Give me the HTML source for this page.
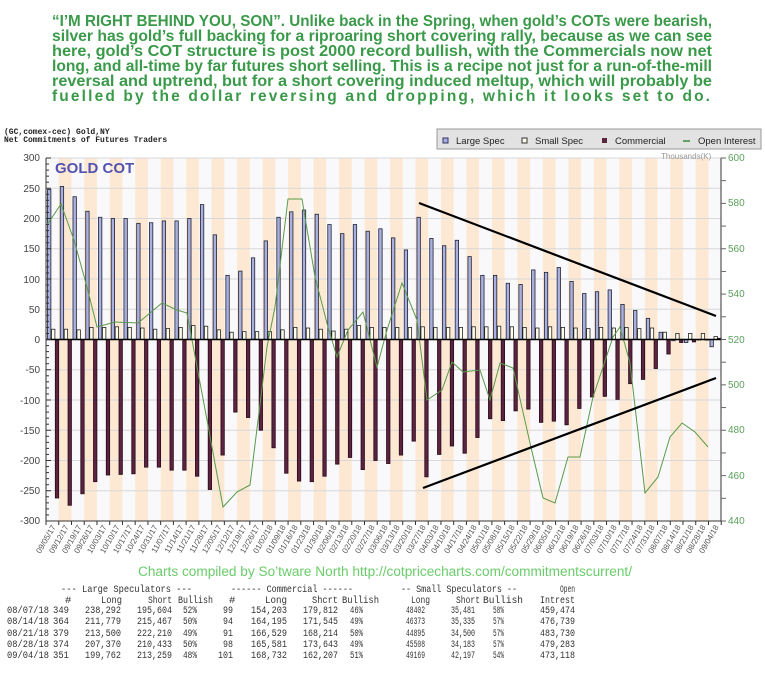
<!DOCTYPE html>
<html><head><meta charset="utf-8">
<style>
body{margin:0;background:#fff;width:765px;height:674px;overflow:hidden;position:relative;font-family:"Liberation Sans",sans-serif}
svg{position:absolute;left:0;top:0}
</style></head><body>
<svg id="s" width="765" height="674" xmlns="http://www.w3.org/2000/svg" font-family="Liberation Sans, sans-serif">
<g fill="#3a9a4a" font-weight="bold" font-size="15.5">
<text x="52" y="26" textLength="660" lengthAdjust="spacingAndGlyphs">“I’M RIGHT BEHIND YOU, SON”. Unlike back in the Spring, when gold’s COTs were bearish,</text>
<text x="52" y="41" textLength="660" lengthAdjust="spacingAndGlyphs">silver has gold’s full backing for a riproaring short covering rally, because as we can see</text>
<text x="52" y="56" textLength="660" lengthAdjust="spacingAndGlyphs">here, gold’s COT structure is post 2000 record bullish, with the Commercials now net</text>
<text x="52" y="71" textLength="660" lengthAdjust="spacingAndGlyphs">long, and all-time by far futures short selling. This is a recipe not just for a run-of-the-mill</text>
<text x="52" y="86" textLength="660" lengthAdjust="spacingAndGlyphs">reversal and uptrend, but for a short covering induced meltup, which will probably be</text>
<text x="52" y="101" textLength="658" lengthAdjust="spacing">fuelled by the dollar reversing and dropping,  which it looks set to do.</text>
</g>
<g id="stripes"></g>
<g id="grid" stroke="#d8d8d8" stroke-width="1"></g>
<g id="bars"></g>
<polyline fill="none" stroke="#5a9a4a" stroke-width="1" points="47,225 61,204 74,240 87,287 97,327 115,322 138,323 162,303 177,310 187,313 192,340 207,420 223,507 237,492 250,485 263,380 267,347 275,307 288,199 302,199 315,277 328,327 337,357 348,330 363,312 377,367 387,330 402,283 417,320 427,400 442,390 452,362 463,372 480,370 490,400 500,363 513,368 530,443 543,498 555,503 568,457 580,457 593,397 613,337 620,327 630,363 645,493 658,477 670,437 682,423 695,432 708,447"/>
<line x1="419" y1="203" x2="716" y2="316" stroke="#000" stroke-width="2.2"/>
<line x1="423" y1="488" x2="716" y2="378" stroke="#000" stroke-width="2.2"/>
<g id="axes" stroke="#333" stroke-width="1"></g>
<g font-size="10" fill="#444" text-anchor="end">
<text x="40" y="161">300</text><text x="40" y="192">250</text><text x="40" y="222">200</text><text x="40" y="252">150</text><text x="40" y="283">100</text><text x="40" y="313">50</text><text x="40" y="343">0</text><text x="40" y="373">-50</text><text x="40" y="404">-100</text><text x="40" y="434">-150</text><text x="40" y="464">-200</text><text x="40" y="494">-250</text><text x="40" y="524">-300</text>
</g>
<g font-size="10" fill="#5aa05a">
<text x="728" y="161">600</text><text x="728" y="206">580</text><text x="728" y="252">560</text><text x="728" y="297">540</text><text x="728" y="343">520</text><text x="728" y="388">500</text><text x="728" y="433">480</text><text x="728" y="479">460</text><text x="728" y="524">440</text>
</g>
<text x="661" y="159" font-size="8" fill="#999">Thousands(K)</text>
<text x="55" y="173" font-size="15" font-weight="bold" fill="#5252b0">GOLD COT</text>
<g font-family="Liberation Mono, monospace" font-size="8" font-weight="bold" fill="#222">
<text x="4" y="134">(GC,comex-cec) Gold,NY</text>
<text x="4" y="142">Net Commitments of Futures Traders</text>
</g>
<rect x="437" y="129" width="324" height="20" fill="#e2e2e2" stroke="#999"/>
<rect x="443" y="138" width="5" height="5" fill="#aab0dd" stroke="#336"/>
<text x="456" y="144" font-size="9.5" fill="#222">Large Spec</text>
<rect x="522" y="138" width="5" height="5" fill="#ffffe8" stroke="#333"/>
<text x="535" y="144" font-size="9.5" fill="#222">Small Spec</text>
<rect x="602" y="138" width="5" height="5" fill="#5a2440"/>
<text x="615" y="144" font-size="9.5" fill="#222">Commercial</text>
<line x1="683" y1="141" x2="690" y2="141" stroke="#3a8a3a" stroke-width="1.5"/>
<text x="698" y="144" font-size="9.5" fill="#222">Open Interest</text>
<g id="dates" font-size="8" fill="#555" text-anchor="end">
<text transform="translate(56,527) rotate(-60)">09/05/17</text>
<text transform="translate(69,527) rotate(-60)">09/12/17</text>
<text transform="translate(82,527) rotate(-60)">09/19/17</text>
<text transform="translate(94,527) rotate(-60)">09/26/17</text>
<text transform="translate(107,527) rotate(-60)">10/03/17</text>
<text transform="translate(120,527) rotate(-60)">10/10/17</text>
<text transform="translate(133,527) rotate(-60)">10/17/17</text>
<text transform="translate(145,527) rotate(-60)">10/24/17</text>
<text transform="translate(158,527) rotate(-60)">10/31/17</text>
<text transform="translate(171,527) rotate(-60)">11/07/17</text>
<text transform="translate(184,527) rotate(-60)">11/14/17</text>
<text transform="translate(196,527) rotate(-60)">11/21/17</text>
<text transform="translate(209,527) rotate(-60)">11/28/17</text>
<text transform="translate(222,527) rotate(-60)">12/05/17</text>
<text transform="translate(235,527) rotate(-60)">12/12/17</text>
<text transform="translate(247,527) rotate(-60)">12/19/17</text>
<text transform="translate(260,527) rotate(-60)">12/26/17</text>
<text transform="translate(273,527) rotate(-60)">01/02/18</text>
<text transform="translate(286,527) rotate(-60)">01/09/18</text>
<text transform="translate(298,527) rotate(-60)">01/16/18</text>
<text transform="translate(311,527) rotate(-60)">01/23/18</text>
<text transform="translate(324,527) rotate(-60)">01/30/18</text>
<text transform="translate(337,527) rotate(-60)">02/06/18</text>
<text transform="translate(349,527) rotate(-60)">02/13/18</text>
<text transform="translate(362,527) rotate(-60)">02/20/18</text>
<text transform="translate(375,527) rotate(-60)">02/27/18</text>
<text transform="translate(388,527) rotate(-60)">03/06/18</text>
<text transform="translate(400,527) rotate(-60)">03/13/18</text>
<text transform="translate(413,527) rotate(-60)">03/20/18</text>
<text transform="translate(426,527) rotate(-60)">03/27/18</text>
<text transform="translate(439,527) rotate(-60)">04/03/18</text>
<text transform="translate(451,527) rotate(-60)">04/10/18</text>
<text transform="translate(464,527) rotate(-60)">04/17/18</text>
<text transform="translate(477,527) rotate(-60)">04/24/18</text>
<text transform="translate(490,527) rotate(-60)">05/01/18</text>
<text transform="translate(502,527) rotate(-60)">05/08/18</text>
<text transform="translate(515,527) rotate(-60)">05/15/18</text>
<text transform="translate(528,527) rotate(-60)">05/22/18</text>
<text transform="translate(541,527) rotate(-60)">05/29/18</text>
<text transform="translate(553,527) rotate(-60)">06/05/18</text>
<text transform="translate(566,527) rotate(-60)">06/12/18</text>
<text transform="translate(579,527) rotate(-60)">06/19/18</text>
<text transform="translate(592,527) rotate(-60)">06/26/18</text>
<text transform="translate(604,527) rotate(-60)">07/03/18</text>
<text transform="translate(617,527) rotate(-60)">07/10/18</text>
<text transform="translate(630,527) rotate(-60)">07/17/18</text>
<text transform="translate(643,527) rotate(-60)">07/24/18</text>
<text transform="translate(655,527) rotate(-60)">07/31/18</text>
<text transform="translate(668,527) rotate(-60)">08/07/18</text>
<text transform="translate(681,527) rotate(-60)">08/14/18</text>
<text transform="translate(694,527) rotate(-60)">08/21/18</text>
<text transform="translate(706,527) rotate(-60)">08/28/18</text>
<text transform="translate(719,527) rotate(-60)">09/04/18</text>
</g>
<text x="138" y="576" font-size="13.5" fill="#6acc6a" textLength="494" lengthAdjust="spacingAndGlyphs">Charts compiled by So&#8217;tware North  http://cotpricecharts.com/commitmentscurrent/</text>
<g font-family="Liberation Mono, monospace" font-size="10.5" fill="#333">
<text x="61" y="592" textLength="131" lengthAdjust="spacingAndGlyphs">--- Large Speculators ---</text>
<text x="231" y="592" textLength="122" lengthAdjust="spacingAndGlyphs">------ Commercial ------</text>
<text x="401" y="592" textLength="116" lengthAdjust="spacingAndGlyphs">-- Small Speculators --</text>
<text x="560" y="592" textLength="15" lengthAdjust="spacingAndGlyphs">Open</text>
<text x="65" y="603">#</text>
<text x="101" y="603" textLength="21" lengthAdjust="spacingAndGlyphs">Long</text>
<text x="148" y="603" textLength="24" lengthAdjust="spacingAndGlyphs">Short</text>
<text x="178" y="603" textLength="35" lengthAdjust="spacingAndGlyphs">Bullish</text>
<text x="229" y="603">#</text>
<text x="265" y="603" textLength="22" lengthAdjust="spacingAndGlyphs">Long</text>
<text x="312" y="603" textLength="26" lengthAdjust="spacingAndGlyphs">Shcrt</text>
<text x="342" y="603" textLength="37" lengthAdjust="spacingAndGlyphs">Bullish</text>
<text x="411" y="603" textLength="19" lengthAdjust="spacingAndGlyphs">Long</text>
<text x="456" y="603" textLength="24" lengthAdjust="spacingAndGlyphs">Short</text>
<text x="483" y="603" textLength="40" lengthAdjust="spacingAndGlyphs">Bullish</text>
<text x="540" y="603" textLength="35" lengthAdjust="spacingAndGlyphs">Intrest</text>
</g>
<g font-family="Liberation Mono, monospace" font-size="10.5" fill="#333">
<g transform="translate(0,613)"><text x="7" textLength="42" lengthAdjust="spacingAndGlyphs">08/07/18</text><text x="53" textLength="16" lengthAdjust="spacingAndGlyphs">349</text><text x="85" textLength="36" lengthAdjust="spacingAndGlyphs">238,292</text><text x="137" textLength="35" lengthAdjust="spacingAndGlyphs">195,604</text><text x="183" textLength="14" lengthAdjust="spacingAndGlyphs">52%</text><text x="223" textLength="10" lengthAdjust="spacingAndGlyphs">99</text><text x="251" textLength="36" lengthAdjust="spacingAndGlyphs">154,203</text><text x="303" textLength="35" lengthAdjust="spacingAndGlyphs">179,812</text><text x="350" textLength="13" lengthAdjust="spacingAndGlyphs">46%</text><text x="406" textLength="19" lengthAdjust="spacingAndGlyphs">48402</text><text x="451" textLength="24" lengthAdjust="spacingAndGlyphs">35,481</text><text x="493" textLength="11" lengthAdjust="spacingAndGlyphs">58%</text><text x="540" textLength="35" lengthAdjust="spacingAndGlyphs">459,474</text></g>
<g transform="translate(0,624)"><text x="7" textLength="42" lengthAdjust="spacingAndGlyphs">08/14/18</text><text x="53" textLength="16" lengthAdjust="spacingAndGlyphs">364</text><text x="85" textLength="36" lengthAdjust="spacingAndGlyphs">211,779</text><text x="137" textLength="35" lengthAdjust="spacingAndGlyphs">215,467</text><text x="183" textLength="14" lengthAdjust="spacingAndGlyphs">50%</text><text x="223" textLength="10" lengthAdjust="spacingAndGlyphs">94</text><text x="251" textLength="36" lengthAdjust="spacingAndGlyphs">164,195</text><text x="303" textLength="35" lengthAdjust="spacingAndGlyphs">171,545</text><text x="350" textLength="13" lengthAdjust="spacingAndGlyphs">49%</text><text x="406" textLength="19" lengthAdjust="spacingAndGlyphs">46373</text><text x="451" textLength="24" lengthAdjust="spacingAndGlyphs">35,335</text><text x="493" textLength="11" lengthAdjust="spacingAndGlyphs">57%</text><text x="540" textLength="35" lengthAdjust="spacingAndGlyphs">476,739</text></g>
<g transform="translate(0,636)"><text x="7" textLength="42" lengthAdjust="spacingAndGlyphs">08/21/18</text><text x="53" textLength="16" lengthAdjust="spacingAndGlyphs">379</text><text x="85" textLength="36" lengthAdjust="spacingAndGlyphs">213,500</text><text x="137" textLength="35" lengthAdjust="spacingAndGlyphs">222,210</text><text x="183" textLength="14" lengthAdjust="spacingAndGlyphs">49%</text><text x="223" textLength="10" lengthAdjust="spacingAndGlyphs">91</text><text x="251" textLength="36" lengthAdjust="spacingAndGlyphs">166,529</text><text x="303" textLength="35" lengthAdjust="spacingAndGlyphs">168,214</text><text x="350" textLength="13" lengthAdjust="spacingAndGlyphs">50%</text><text x="406" textLength="19" lengthAdjust="spacingAndGlyphs">44895</text><text x="451" textLength="24" lengthAdjust="spacingAndGlyphs">34,500</text><text x="493" textLength="11" lengthAdjust="spacingAndGlyphs">57%</text><text x="540" textLength="35" lengthAdjust="spacingAndGlyphs">483,730</text></g>
<g transform="translate(0,647)"><text x="7" textLength="42" lengthAdjust="spacingAndGlyphs">08/28/18</text><text x="53" textLength="16" lengthAdjust="spacingAndGlyphs">374</text><text x="85" textLength="36" lengthAdjust="spacingAndGlyphs">207,370</text><text x="137" textLength="35" lengthAdjust="spacingAndGlyphs">210,433</text><text x="183" textLength="14" lengthAdjust="spacingAndGlyphs">50%</text><text x="223" textLength="10" lengthAdjust="spacingAndGlyphs">98</text><text x="251" textLength="36" lengthAdjust="spacingAndGlyphs">165,581</text><text x="303" textLength="35" lengthAdjust="spacingAndGlyphs">173,643</text><text x="350" textLength="13" lengthAdjust="spacingAndGlyphs">49%</text><text x="406" textLength="19" lengthAdjust="spacingAndGlyphs">45508</text><text x="451" textLength="24" lengthAdjust="spacingAndGlyphs">34,183</text><text x="493" textLength="11" lengthAdjust="spacingAndGlyphs">57%</text><text x="540" textLength="35" lengthAdjust="spacingAndGlyphs">479,283</text></g>
<g transform="translate(0,658)"><text x="7" textLength="42" lengthAdjust="spacingAndGlyphs">09/04/18</text><text x="53" textLength="16" lengthAdjust="spacingAndGlyphs">351</text><text x="85" textLength="36" lengthAdjust="spacingAndGlyphs">199,762</text><text x="137" textLength="35" lengthAdjust="spacingAndGlyphs">213,259</text><text x="183" textLength="14" lengthAdjust="spacingAndGlyphs">48%</text><text x="218" textLength="15" lengthAdjust="spacingAndGlyphs">101</text><text x="251" textLength="36" lengthAdjust="spacingAndGlyphs">168,732</text><text x="303" textLength="35" lengthAdjust="spacingAndGlyphs">162,207</text><text x="350" textLength="13" lengthAdjust="spacingAndGlyphs">51%</text><text x="406" textLength="19" lengthAdjust="spacingAndGlyphs">49169</text><text x="451" textLength="24" lengthAdjust="spacingAndGlyphs">42,197</text><text x="493" textLength="11" lengthAdjust="spacingAndGlyphs">54%</text><text x="540" textLength="35" lengthAdjust="spacingAndGlyphs">473,118</text></g>
</g>
</svg>
<script>
(function(){
var NS="http://www.w3.org/2000/svg";
function el(p,t,a){var e=document.createElementNS(NS,t);for(var k in a)e.setAttribute(k,a[k]);p.appendChild(e);return e;}
var x0=46,w=12.74,zy=339.5,sc=0.605,top=158,bot=521;
var L=[248,253,236,212,202,200,200,192,193,196,196,200,223,173,106,113,135,163,202,211,214,207,190,175,190,179,183,168,148,202,167,155,164,137,106,106,93,91,115,111,119,96,76,79,82,58,48,35,12,-2,-5,0,-12];
var S=[17,17,16,20,20,21,20,19,17,18,20,23,22,16,12,13,13,13,16,20,19,17,14,17,23,20,20,20,20,21,20,20,20,21,21,22,21,20,19,21,20,19,18,20,19,20,18,19,12,10,10,10,5];
var C=[-262,-274,-255,-235,-224,-223,-222,-211,-211,-216,-216,-226,-248,-191,-120,-129,-150,-179,-221,-234,-235,-226,-206,-195,-215,-200,-205,-191,-168,-227,-190,-176,-188,-162,-131,-134,-118,-115,-137,-135,-141,-114,-95,-94,-99,-73,-66,-48,-24,-5,-4,-1,2];
var st=document.getElementById('stripes'),g=document.getElementById('grid'),b=document.getElementById('bars'),ax=document.getElementById('axes');
for(var i=0;i<53;i++){var xs=x0+i*w;el(st,'rect',{x:xs,y:top,width:w+0.3,height:bot-top,fill:i%2?'#fde9d3':'#f9f9fb'});}
for(var v=-300;v<=300;v+=50){var y=zy-v*sc;el(g,'line',{x1:x0,x2:721,y1:y,y2:y});}
function bar(x,v,f,s){var y=zy-v*sc;var h=Math.abs(v*sc);el(b,'rect',{x:x,y:Math.min(y,zy),width:3.4,height:Math.max(h,0.5),fill:f,stroke:s,'stroke-width':0.8});}
for(var i=0;i<53;i++){var xs=x0+i*w;bar(xs+1.5,L[i],'#aab0dd','#223');bar(xs+5.5,S[i],'#ffffec','#222');bar(xs+9.3,C[i],'#5a2440','#2a0a1a');}
el(ax,'line',{x1:x0,x2:721,y1:zy,y2:zy,stroke:'#000','stroke-width':1.5});
el(ax,'line',{x1:x0,x2:x0,y1:top,y2:bot});el(ax,'line',{x1:721,x2:721,y1:top,y2:bot});el(ax,'line',{x1:x0,x2:721,y1:bot,y2:bot});
for(var v=-300;v<=300;v+=10){var y=zy-v*sc;el(ax,'line',{x1:x0,x2:x0+(v%50?3:5),y1:y,y2:y});}
for(var k=0;k<=16;k++){var y=top+k*(bot-top)/16;el(ax,'line',{x1:721,x2:726,y1:y,y2:y,stroke:'#666'});}
for(var i=0;i<=53;i++){var xs=x0+i*w;el(ax,'line',{x1:xs,x2:xs,y1:bot,y2:bot+4});}
})();
</script>
</body></html>
